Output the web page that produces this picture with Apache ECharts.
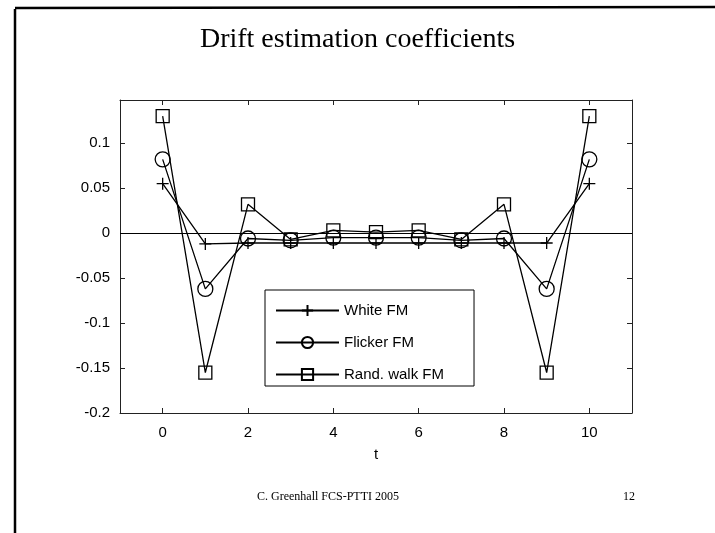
<!DOCTYPE html>
<html>
<head>
<meta charset="utf-8">
<script src="https://cdn.jsdelivr.net/npm/echarts@6/dist/echarts.min.js"></script>
<style>
  html, body { margin: 0; padding: 0; background: #fff; }
  #chart { width: 715px; height: 533px; }
</style>
</head>
<body>
<div id="chart"></div>
<script>
const t = [0, 1, 2, 3, 4, 5, 6, 7, 8, 9, 10]
const whiteFM = [0.055, -0.012, -0.011, -0.011, -0.011, -0.011, -0.011, -0.011, -0.011, -0.011, 0.055]
const flickerFM = [0.082, -0.062, -0.006, -0.008, -0.005, -0.005, -0.005, -0.008, -0.006, -0.062, 0.082]
const randWalkFM = [0.13, -0.155, 0.032, -0.007, 0.003, 0.001, 0.003, -0.007, 0.032, -0.155, 0.13]
const seriesNames = ['White FM', 'Flicker FM', 'Rand. walk FM']
const xTicks = [0, 2, 4, 6, 8, 10]
const yTicks = [-0.2, -0.15, -0.1, -0.05, 0, 0.05, 0.1]

const pair = arr => t.map((x, i) => [x, arr[i]])

const lineStyle = { color: '#000', width: 1.3 }
const markStyle = { color: 'transparent', borderColor: '#000', borderWidth: 1.3 }
const tickFont = { color: '#000', fontFamily: 'Liberation Sans, Arial', fontSize: 15 }
const frame = { onZero: false, lineStyle: { color: '#222' } }

const chart = echarts.init(document.getElementById('chart'))
chart.setOption({
  animation: false,
  backgroundColor: '#fff',
  title: {
    text: 'Drift estimation coefficients',
    left: 'center',
    top: 21,
    textStyle: { fontFamily: 'Liberation Serif, Times New Roman', fontWeight: 'normal', fontSize: 28, color: '#000' }
  },
  grid: { left: 120, top: 100, right: 83, bottom: 120, containLabel: false },
  legend: {
    orient: 'vertical',
    left: 265,
    top: 290,
    padding: [13, 30, 4, 10],
    itemWidth: 63,
    itemHeight: 14,
    itemGap: 17,
    borderColor: '#000',
    borderWidth: 1,
    backgroundColor: '#fff',
    textStyle: { color: '#000', fontFamily: 'Liberation Sans, Arial', fontSize: 15 },
    data: seriesNames
  },
  xAxis: [
    {
      type: 'value', min: -1, max: 11,
      name: 't', nameLocation: 'middle', nameGap: 34,
      nameTextStyle: tickFont,
      axisLine: frame,
      axisTick: { inside: true, length: 5, customValues: xTicks, lineStyle: { color: '#222' } },
      axisLabel: Object.assign({ margin: 12, customValues: xTicks }, tickFont),
      splitLine: { show: false }
    },
    {
      type: 'value', min: -1, max: 11, position: 'top',
      axisLine: frame,
      axisTick: { inside: true, length: 5, customValues: xTicks, lineStyle: { color: '#222' } },
      axisLabel: { show: false },
      splitLine: { show: false }
    }
  ],
  yAxis: [
    {
      type: 'value', min: -0.2, max: 0.148,
      axisLine: frame,
      axisTick: { inside: true, length: 5, customValues: yTicks, lineStyle: { color: '#222' } },
      axisLabel: Object.assign({ margin: 10, customValues: yTicks,
        formatter: v => (Math.abs(v) < 1e-9 ? '0' : String(+v.toFixed(2))) }, tickFont),
      splitLine: { show: false }
    },
    {
      type: 'value', min: -0.2, max: 0.148, position: 'right',
      axisLine: { show: true, onZero: false, lineStyle: { color: '#222' } },
      axisTick: { show: true, inside: true, length: 5, customValues: yTicks, lineStyle: { color: '#222' } },
      axisLabel: { show: false },
      splitLine: { show: false }
    }
  ],
  series: [
    {
      name: seriesNames[0], type: 'line', data: pair(whiteFM),
      symbol: 'path://M0,-1L0,1M-1,0L1,0', symbolSize: 12, showAllSymbol: true,
      lineStyle, itemStyle: markStyle,
      markLine: {
        silent: true, symbol: 'none', label: { show: false },
        lineStyle: { color: '#000', width: 1, type: 'solid' },
        data: [{ yAxis: 0 }]
      }
    },
    {
      name: seriesNames[1], type: 'line', data: pair(flickerFM),
      symbol: 'circle', symbolSize: 15, showAllSymbol: true,
      lineStyle, itemStyle: markStyle
    },
    {
      name: seriesNames[2], type: 'line', data: pair(randWalkFM),
      symbol: 'rect', symbolSize: 13, showAllSymbol: true,
      lineStyle, itemStyle: markStyle
    }
  ],
  graphic: [
    { type: 'line', shape: { x1: 15, y1: 9, x2: 15, y2: 533 }, style: { stroke: '#000', lineWidth: 2.5 } },
    { type: 'line', shape: { x1: 15, y1: 8, x2: 715, y2: 7 }, style: { stroke: '#000', lineWidth: 2.5 } },
    { type: 'text', left: 257, top: 491,
      style: { text: 'C. Greenhall FCS-PTTI 2005', fill: '#000', font: '12px "Liberation Serif", "Times New Roman"' } },
    { type: 'text', left: 623, top: 491,
      style: { text: '12', fill: '#000', font: '12px "Liberation Serif", "Times New Roman"' } }
  ]
})
</script>
</body>
</html>
